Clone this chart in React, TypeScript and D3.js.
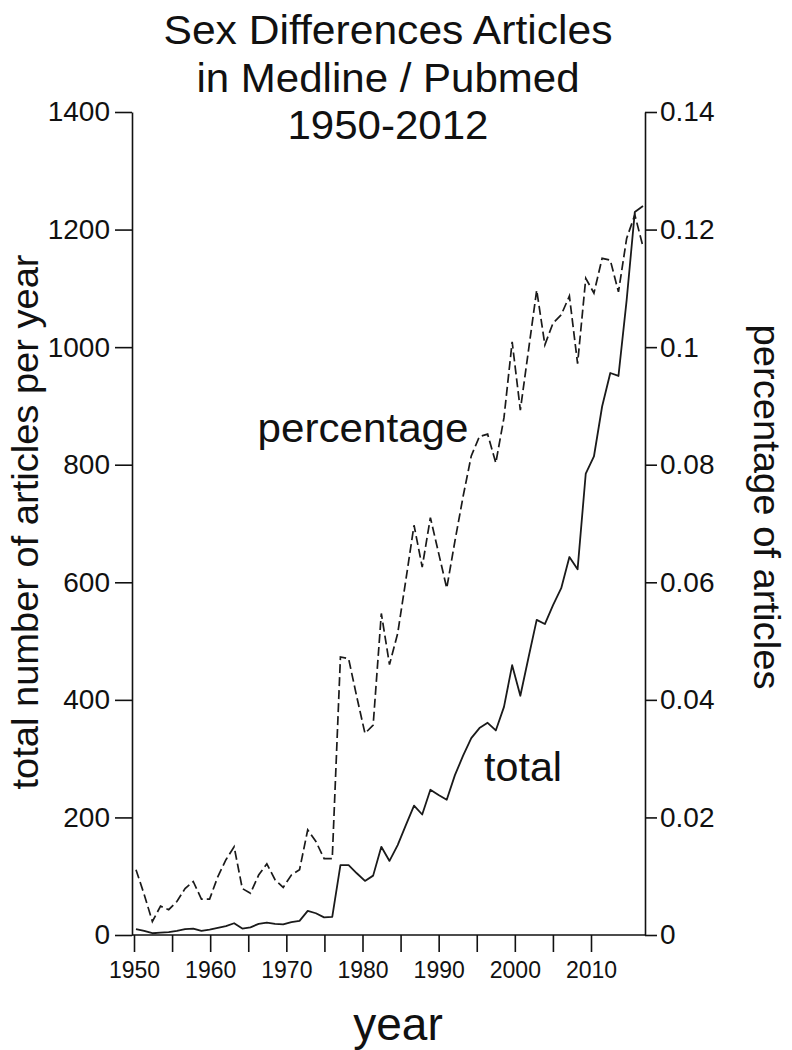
import React, { useEffect, useRef } from 'react';
import * as d3 from 'd3';

// yearly values
const years = d3.range(1950, 2013);

const totalArticles = [
  10, 7, 3, 4, 5, 7, 10, 11, 7, 9,
  12, 15, 20, 11, 13, 19, 21, 19, 18, 22,
  24, 41, 37, 30, 31, 119, 119, 105, 92, 101,
  150, 126, 153, 187, 220, 205, 247, 238, 230, 272,
  305, 335, 352, 361, 348, 388, 459, 407, 472, 536,
  529, 561, 590, 643, 622, 785, 814, 899, 956, 951,
  1080, 1230, 1240,
];

const percentArticles = [
  0.0111, 0.0069, 0.0023, 0.0049, 0.0043, 0.0057, 0.0079, 0.0091, 0.0061, 0.0061,
  0.0099, 0.0128, 0.015, 0.0079, 0.0071, 0.0102, 0.0121, 0.0094, 0.0081, 0.0102,
  0.0111, 0.0179, 0.0159, 0.013, 0.013, 0.0473, 0.047, 0.0405, 0.0343, 0.0357,
  0.0547, 0.046, 0.0513, 0.0604, 0.0697, 0.0626, 0.071, 0.065, 0.059, 0.067,
  0.0746, 0.0815, 0.0848, 0.0852, 0.0803, 0.088, 0.1009, 0.0893, 0.0995, 0.1097,
  0.1004, 0.1041, 0.1055, 0.1087, 0.0972, 0.1117, 0.1092, 0.1151, 0.1148, 0.1094,
  0.1185, 0.1225, 0.1171,
];

const leftTicks = [0, 200, 400, 600, 800, 1000, 1200, 1400];
const rightTicks = [0, 0.02, 0.04, 0.06, 0.08, 0.1, 0.12, 0.14];
const rightTickLabels = ['0', '0.02', '0.04', '0.06', '0.08', '0.1', '0.12', '0.14'];
const yearTicks = d3.range(1950, 2011, 5);
const titleLines = ['Sex Differences Articles', 'in Medline / Pubmed', '1950-2012'];

const FONT = "'Liberation Sans', Arial, sans-serif";

const App = () => {
  const svgRef = useRef(null);

  useEffect(() => {
    const svg = d3.select(svgRef.current);
    svg.selectAll('*').remove();

    const left = 132;
    const right = 645;
    const top = 112;
    const bottom = 935;

    const yLeft = d3.scaleLinear().domain([0, 1400]).range([bottom, top]);
    const yRight = d3.scaleLinear().domain([0, 0.14]).range([bottom, top]);
    // tick labels and plotted points don't share spacing in the original
    const xTicks = d3.scaleLinear().domain([1950, 2010]).range([134, 591]);
    const xData = d3.scaleLinear().domain([1950, 2012]).range([136, 643]);

    // title
    const titleLengths = [449, 383, 201];
    titleLines.forEach((t, i) => {
      svg.append('text')
        .attr('x', 388)
        .attr('y', 44 + i * 47.5)
        .attr('text-anchor', 'middle')
        .attr('font-size', 41)
        .attr('textLength', titleLengths[i])
        .attr('lengthAdjust', 'spacingAndGlyphs')
        .text(t);
    });

    // left axis
    const gl = svg.append('g')
      .attr('transform', `translate(${left},0)`)
      .call(d3.axisLeft(yLeft).tickValues(leftTicks).tickSize(17).tickSizeOuter(0).tickPadding(5)
        .tickFormat(d => String(d)));
    gl.selectAll('text').attr('font-size', 28).attr('font-family', FONT).attr('fill', '#111');

    // right axis
    const gr = svg.append('g')
      .attr('transform', `translate(${right},0)`)
      .call(d3.axisRight(yRight).tickValues(rightTicks).tickSize(12).tickSizeOuter(0).tickPadding(3)
        .tickFormat((d, i) => rightTickLabels[i]));
    gr.selectAll('text').attr('font-size', 28).attr('font-family', FONT).attr('fill', '#111');

    // bottom axis
    svg.append('line')
      .attr('x1', left).attr('x2', right)
      .attr('y1', bottom).attr('y2', bottom)
      .attr('stroke', '#111').attr('stroke-width', 1.6);
    const gb = svg.append('g')
      .attr('transform', `translate(0,${bottom})`)
      .call(d3.axisBottom(xTicks).tickValues(yearTicks).tickSize(17).tickSizeOuter(0).tickPadding(10)
        .tickFormat(d => (d % 10 === 0 ? String(d) : '')));
    gb.select('.domain').remove();
    gb.selectAll('text').attr('font-size', 23).attr('font-family', FONT).attr('fill', '#111');

    svg.selectAll('.domain').attr('stroke', '#111').attr('stroke-width', 1.6);
    svg.selectAll('.tick line').attr('stroke', '#111').attr('stroke-width', 1.6);

    // lines
    const totalLine = d3.line()
      .x((d, i) => xData(years[i]))
      .y(d => yLeft(d));
    svg.append('path')
      .datum(totalArticles)
      .attr('fill', 'none')
      .attr('stroke', '#1a1a1a')
      .attr('stroke-width', 1.8)
      .attr('stroke-linejoin', 'round')
      .attr('d', totalLine);

    const pctLine = d3.line()
      .x((d, i) => xData(years[i]))
      .y(d => yRight(d));
    svg.append('path')
      .datum(percentArticles)
      .attr('fill', 'none')
      .attr('stroke', '#1a1a1a')
      .attr('stroke-width', 1.7)
      .attr('stroke-dasharray', '9,4')
      .attr('d', pctLine);

    // series labels
    svg.append('text')
      .attr('x', 363).attr('y', 442)
      .attr('text-anchor', 'middle')
      .attr('font-size', 41)
      .attr('textLength', 211)
      .attr('lengthAdjust', 'spacingAndGlyphs')
      .text('percentage');

    svg.append('text')
      .attr('x', 523).attr('y', 781)
      .attr('text-anchor', 'middle')
      .attr('font-size', 41)
      .attr('textLength', 78)
      .attr('lengthAdjust', 'spacingAndGlyphs')
      .text('total');

    // axis titles
    svg.append('text')
      .attr('transform', 'translate(25,522) rotate(-90)')
      .attr('text-anchor', 'middle')
      .attr('dominant-baseline', 'central')
      .attr('font-size', 37)
      .attr('textLength', 535)
      .attr('lengthAdjust', 'spacingAndGlyphs')
      .text('total number of articles per year');

    svg.append('text')
      .attr('transform', 'translate(766,507) rotate(90)')
      .attr('text-anchor', 'middle')
      .attr('dominant-baseline', 'central')
      .attr('font-size', 37)
      .attr('textLength', 365)
      .attr('lengthAdjust', 'spacingAndGlyphs')
      .text('percentage of articles');

    svg.append('text')
      .attr('x', 398).attr('y', 1040)
      .attr('text-anchor', 'middle')
      .attr('font-size', 46)
      .text('year');
  }, []);

  return (
    <div style={{ position: 'absolute', left: 0, top: 0 }}>
      <svg
        ref={svgRef}
        width={792}
        height={1050}
        style={{ display: 'block', background: '#fff', fontFamily: FONT }}
        fill="#111"
      />
    </div>
  );
};

export default App;
